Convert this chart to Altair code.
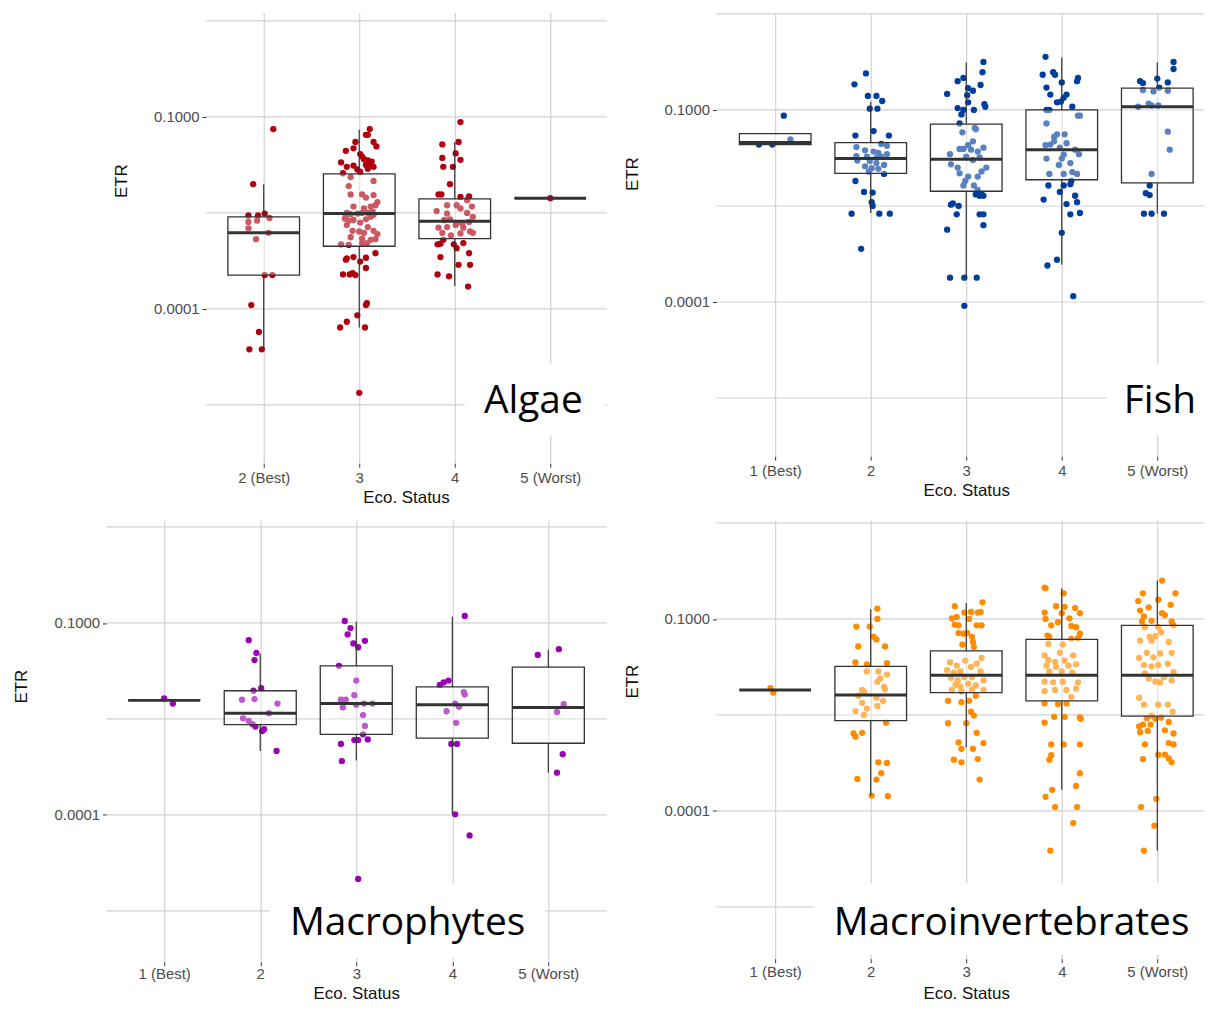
import json
import altair as alt
import pandas as pd

# ---------------- categories ----------------
ALG_CATS = ["2 (Best)", "3", "4", "5 (Worst)"]
FIVE_CATS = ["1 (Best)", "2", "3", "4", "5 (Worst)"]

# ---------------- Algae (log10 ETR, jitter offsets) ----------------
alg_p1_log = [-1.19, -2.05, -2.54, -2.54, -2.51, -2.58, -2.64, -2.62, -2.74, -2.81, -2.91, -3.47, -3.47, -3.94, -4.36, -4.63, -4.63]
alg_p1_jit = [0.10, -0.11, -0.16, -0.06, 0.01, 0.06, -0.16, -0.07, -0.16, 0.05, -0.08, 0.01, 0.09, -0.13, -0.05, -0.15, -0.02]
alg_p2_log = [-1.19, -1.28, -1.28, -1.39, -1.39, -1.46, -1.49, -1.53, -1.58, -1.62, -1.66, -1.68, -1.70, -1.74, -1.75, -1.78, -1.71, -1.78, -1.76, -1.81, -1.88, -1.86, -1.82,
              -1.94, -2.00, -2.08, -2.21, -2.21, -2.22, -2.26, -2.33, -2.38, -2.40, -2.43, -2.40, -2.50, -2.53, -2.52, -2.51, -2.50, -2.50, -2.48, -2.59, -2.62, -2.61, -2.60, -2.56, -2.53, -2.69, -2.65, -2.72, -2.78, -2.79, -2.81, -2.78, -2.83, -2.88, -2.90, -2.92, -2.91, -2.99, -3.00, -2.97, -2.97,
              -3.21, -3.23, -3.19, -3.26, -3.20, -3.13, -3.36, -3.46, -3.46, -3.44, -3.47, -3.91, -3.94, -4.10, -4.20, -4.29, -4.29, -5.31]
alg_p2_jit = [0.11, 0.07, 0.09, -0.04, 0.15, 0.18, -0.06, -0.14, 0.01, 0.03, 0.05, 0.09, 0.13, 0.12, 0.07, 0.15, -0.19, -0.13, -0.06, 0.09, -0.17, 0.01, -0.02,
              -0.09, 0.15, -0.11, 0.03, -0.09, 0.15, 0.07, 0.19, 0.17, 0.12, 0.05, -0.06, -0.13, -0.14, -0.09, -0.02, 0.03, 0.09, 0.14, -0.15, -0.11, -0.06, 0.07, 0.12, 0.15, -0.13, 0.01, 0.09, -0.07, 0.00, 0.05, 0.15, 0.19, -0.09, 0.03, 0.12, 0.17, -0.19, -0.11, 0.03, 0.08,
              -0.13, -0.14, -0.06, 0.01, 0.07, 0.17, 0.07, -0.17, -0.10, -0.07, -0.04, 0.08, 0.07, -0.02, -0.13, -0.20, 0.06, 0.00]
alg_p3_log = [-1.08, -1.43, -1.39, -1.57, -1.64, -1.67, -1.78, -1.78, -2.05, -2.21, -2.21, -2.25, -2.24,
              -2.38, -2.38, -2.30, -2.40, -2.47, -2.51, -2.43, -2.50, -2.56, -2.61, -2.60, -2.66, -2.67, -2.64, -2.73, -2.72, -2.69, -2.73, -2.79, -2.81, -2.81, -2.85, -2.82,
              -2.92, -2.98, -2.99, -2.99, -2.97, -3.05, -3.13, -3.19, -3.31, -3.31, -3.46, -3.49, -3.65]
alg_p3_jit = [0.06, -0.13, 0.04, 0.01, -0.13, 0.06, -0.12, -0.02, -0.05, -0.17, -0.14, 0.06, 0.15,
              -0.08, 0.02, 0.13, 0.18, -0.19, -0.08, 0.06, 0.13, 0.19, -0.11, -0.05, 0.02, 0.08, 0.15, -0.17, -0.08, 0.01, 0.09, 0.16, 0.19, -0.13, -0.04, 0.06,
              -0.12, -0.15, -0.18, -0.01, 0.09, 0.02, 0.15, -0.15, 0.04, 0.16, -0.18, -0.06, 0.14]
alg_p4_log = [-2.27]
alg_p4_jit = [0.00]
alg_q1 = [-3.47, -3.02, -2.90, -2.27]
alg_med = [-2.81, -2.51, -2.63, -2.27]
alg_q3 = [-2.56, -1.89, -2.28, -2.27]
alg_lo = [-4.63, -4.29, -3.64, -2.27]
alg_hi = [-2.05, -1.20, -1.39, -2.27]

# ---------------- Fish ----------------
fish_p1_log = [-1.54, -1.54, -1.46, -1.09]
fish_p1_jit = [-0.17, -0.03, 0.16, 0.09]
fish_p2_log = [-0.43, -0.60, -0.78, -0.78, -0.86, -0.98, -0.98, -1.33, -1.40, -1.40, -1.53, -1.56, -1.58, -1.63, -1.65, -1.67, -1.69, -1.72, -1.73, -1.75,
               -1.73, -1.79, -1.80, -1.83, -1.86, -1.88, -1.91, -1.92, -1.96, -2.00, -2.11, -2.28, -2.29, -2.44, -2.50, -2.62, -2.62, -2.62, -3.17]
fish_p2_jit = [-0.05, -0.17, -0.03, 0.06, 0.12, -0.01, 0.07, 0.03, -0.16, 0.19, 0.11, 0.17, -0.15, -0.06, 0.03, 0.08, 0.17, -0.15, -0.04, 0.06,
               0.11, -0.14, -0.01, 0.06, 0.14, -0.06, 0.01, 0.08, -0.02, 0.14, -0.16, -0.07, 0.02, 0.01, 0.02, -0.20, 0.09, 0.20, -0.10]
fish_p3_log = [-0.25, -0.41, -0.55, -0.50, -0.66, -0.70, -0.61, -0.75, -0.77, -0.88, -0.91, -0.95, -0.97, -1.00, -1.00, -1.07, -1.21,
               -1.28, -1.30, -1.35, -1.49, -1.55, -1.61, -1.61, -1.62, -1.65, -1.59, -1.69, -1.73, -1.74, -1.85, -1.78, -1.90, -1.90, -1.96, -1.99, -2.04, -2.04, -2.11, -2.18, -2.18, -2.25,
               -2.32, -2.34, -2.34, -2.32, -2.46, -2.48, -2.50, -2.63, -2.63, -2.63, -2.80, -2.87, -3.62, -3.62, -3.62, -4.06]
fish_p3_jit = [0.18, 0.17, -0.09, -0.03, 0.02, 0.07, 0.15, -0.20, 0.01, 0.02, 0.19, 0.20, -0.09, -0.03, 0.08, -0.05, -0.07,
               0.09, 0.10, -0.04, 0.07, 0.02, -0.07, -0.03, 0.05, 0.12, 0.18, -0.17, 0.00, 0.14, -0.16, 0.07, -0.09, 0.21, 0.16, -0.07, 0.02, 0.12, -0.01, -0.03, 0.08, 0.12,
               0.10, 0.14, 0.18, 0.16, -0.14, -0.16, -0.08, -0.10, 0.14, 0.18, 0.18, -0.20, -0.17, -0.02, 0.11, -0.02]
fish_p4_log = [-0.17, -0.45, -0.41, -0.45, -0.50, -0.55, -0.57, -0.65, -0.76, -0.76, -0.81, -0.88, -0.87, -0.95, -1.00, -1.00,
               -1.09, -1.09, -1.21, -1.38, -1.42, -1.38, -1.55, -1.54, -1.49, -1.59, -1.52, -1.62, -1.70, -1.69, -1.76, -1.76, -1.83, -1.86, -2.00, -2.00, -1.97, -2.00,
               -2.18, -2.18, -2.16, -2.11, -2.28, -2.34, -2.40, -2.44, -2.47, -2.63, -2.61, -2.92, -3.34, -3.43, -3.91]
fish_p4_jit = [-0.17, -0.20, -0.09, -0.07, 0.17, 0.16, 0.00, -0.16, -0.12, 0.05, 0.02, -0.05, -0.01, 0.11, -0.13, -0.16,
               0.17, 0.19, -0.16, -0.05, -0.08, 0.03, -0.17, -0.12, -0.08, -0.02, 0.05, 0.14, 0.02, 0.18, -0.16, 0.00, 0.09, -0.03, -0.13, 0.02, 0.11, 0.16,
               -0.14, 0.02, 0.09, 0.10, -0.02, 0.14, -0.19, 0.16, 0.05, 0.09, 0.19, 0.00, -0.05, -0.15, 0.12]
fish_p5_log = [-0.25, -0.36, -0.51, -0.55, -0.58, -0.57, -0.69, -0.71, -0.65, -0.70, -0.95, -0.90, -0.93, -0.93, -1.34, -1.62, -2.00, -2.18, -2.30, -2.33, -2.62, -2.62, -2.62]
fish_p5_jit = [0.17, 0.17, 0.00, -0.18, -0.15, 0.11, -0.15, -0.04, 0.02, 0.11, -0.20, -0.09, -0.06, 0.01, 0.11, 0.13, -0.06, -0.08, -0.12, -0.08, -0.14, -0.06, 0.07]
fish_q1 = [-1.54, -1.99, -2.27, -2.09, -2.14]
fish_med = [-1.51, -1.76, -1.77, -1.62, -0.95]
fish_q3 = [-1.37, -1.51, -1.22, -1.00, -0.66]
fish_lo = [-1.54, -2.61, -3.62, -3.42, -2.62]
fish_hi = [-1.37, -0.87, -0.26, -0.18, -0.26]

# ---------------- Macrophytes ----------------
mac_p1_log = [-2.18, -2.26]
mac_p1_jit = [0.00, 0.09]
mac_p2_log = [-1.27, -1.47, -1.58, -2.02, -2.06, -2.20, -2.19, -2.26, -2.41, -2.49, -2.53, -2.58, -2.62, -2.66, -2.69, -3.00]
mac_p2_jit = [-0.12, -0.04, -0.06, 0.01, -0.07, -0.19, -0.06, 0.18, 0.09, -0.18, -0.12, -0.08, -0.05, 0.04, 0.02, 0.17]
mac_p3_log = [-0.97, -1.08, -1.18, -1.32, -1.38, -1.28, -1.67, -1.90, -2.13, -2.20, -2.20, -2.32, -2.28, -2.26, -2.26, -2.44, -2.61, -2.74, -2.83, -2.83, -2.82, -2.89, -3.16, -5.00]
mac_p3_jit = [-0.12, -0.06, -0.09, -0.03, 0.02, 0.09, -0.18, 0.00, -0.02, -0.16, -0.11, -0.14, 0.00, 0.08, 0.17, 0.07, 0.09, 0.07, -0.02, 0.02, 0.12, -0.16, -0.15, 0.02]
mac_p4_log = [-0.89, -1.97, -1.93, -1.90, -2.08, -2.12, -2.26, -2.31, -2.38, -2.56, -2.89, -2.89, -3.99, -4.32]
mac_p4_jit = [0.13, -0.13, -0.09, -0.04, 0.12, 0.13, 0.03, 0.07, -0.06, 0.04, -0.01, 0.05, 0.03, 0.18]
mac_p5_log = [-1.50, -1.41, -2.27, -2.39, -3.05, -3.34]
mac_p5_jit = [-0.11, 0.11, 0.16, 0.09, 0.15, 0.09]
mac_q1 = [-2.21, -2.59, -2.74, -2.80, -2.88]
mac_med = [-2.21, -2.41, -2.26, -2.28, -2.32]
mac_q3 = [-2.21, -2.06, -1.67, -2.00, -1.69]
mac_lo = [-2.21, -3.00, -3.15, -3.98, -3.34]
mac_hi = [-2.21, -1.48, -0.98, -0.90, -1.42]

# ---------------- Macroinvertebrates ----------------
inv_p1_log = [-2.08, -2.15]
inv_p1_jit = [-0.05, -0.02]
inv_p2_log = [-0.84, -1.00, -1.12, -1.12, -1.28, -1.32, -1.43, -1.43, -1.68, -1.71, -1.69,
              -1.82, -1.82, -1.87, -1.93, -1.98, -2.06, -2.10, -2.11, -2.14, -2.20, -2.23, -2.28, -2.31, -2.36, -2.40, -2.44, -2.50,
              -2.62, -2.79, -2.84, -2.78, -3.24, -3.25, -3.41, -3.50, -3.51, -3.76, -3.77]
inv_p2_jit = [0.07, 0.07, -0.15, -0.01, 0.03, 0.06, -0.13, 0.15, -0.16, -0.04, 0.17,
              -0.04, 0.08, 0.17, 0.10, 0.07, 0.14, 0.15, -0.09, -0.07, -0.13, 0.06, 0.13, -0.09, 0.07, -0.04, -0.16, -0.07,
              0.16, -0.18, -0.16, -0.09, 0.08, 0.17, 0.11, -0.14, 0.06, 0.01, 0.18]
inv_p3_log = [-0.74, -0.80, -0.90, -0.89, -0.90, -0.89, -0.99, -0.97, -1.00, -1.09, -1.10, -1.10, -1.10, -1.22, -1.23, -1.22, -1.28, -1.36, -1.40, -1.44,
              -1.68, -1.73, -1.65, -1.70, -1.61, -1.80, -1.84, -1.82, -1.75, -1.82, -1.92, -1.96, -1.91, -1.91, -1.96, -2.03, -2.06, -2.01, -2.04, -2.11, -2.13, -2.10, -2.11,
              -2.28, -2.30, -2.28, -2.20, -2.45, -2.51, -2.63, -2.63, -2.78, -2.93, -2.94, -3.03, -3.03, -3.20, -3.24, -3.19, -3.51]
inv_p3_jit = [0.17, -0.12, -0.02, 0.05, 0.12, 0.15, -0.15, -0.10, 0.03, -0.12, -0.08, 0.11, 0.16, -0.08, -0.03, 0.01, 0.06, 0.07, -0.04, 0.08,
              -0.17, -0.10, -0.01, 0.11, 0.16, -0.20, -0.13, -0.06, 0.05, 0.15, -0.16, -0.09, -0.02, 0.06, 0.18, -0.11, -0.06, 0.02, 0.10, -0.15, -0.05, 0.06, 0.18,
              -0.19, -0.05, 0.03, 0.10, 0.05, 0.08, -0.19, 0.00, 0.11, -0.08, 0.18, -0.05, 0.07, -0.13, -0.05, 0.12, 0.14]
inv_p4_log = [-0.51, -0.52, -0.60, -0.80, -0.81, -0.83, -0.91, -0.90, -0.91, -1.00, -1.05, -0.99, -1.10, -1.11, -1.13, -1.23, -1.26, -1.28, -1.31, -1.30,
              -1.39, -1.40, -1.57, -1.53, -1.57, -1.64, -1.67, -1.65, -1.71, -1.73, -1.75, -1.73, -1.82, -1.82, -1.84, -1.98, -1.99, -1.98, -1.99, -2.11, -2.11, -2.09, -2.13, -2.22,
              -2.32, -2.33, -2.32, -2.53, -2.53, -2.54, -2.56, -2.62, -2.96, -2.96, -2.96, -3.13, -3.20, -3.41, -3.61, -3.67, -3.78, -3.94, -3.94, -4.19, -4.62]
inv_p4_jit = [-0.18, -0.17, 0.02, -0.06, 0.03, 0.14, 0.19, -0.18, 0.00, -0.17, -0.04, 0.08, -0.11, 0.10, 0.15, 0.19, -0.15, -0.13, 0.10, 0.17,
              -0.14, 0.01, -0.18, -0.02, 0.12, -0.14, -0.07, 0.03, 0.15, -0.16, -0.06, 0.07, -0.13, 0.00, 0.11, -0.18, -0.09, 0.01, 0.17, -0.07, 0.05, 0.15, -0.18, 0.10,
              -0.18, -0.04, 0.05, -0.08, 0.03, 0.19, 0.20, -0.18, -0.11, 0.02, 0.19, -0.11, -0.13, 0.19, 0.15, -0.10, -0.17, -0.07, 0.16, 0.12, -0.12]
inv_p5_log = [-0.40, -0.60, -0.60, -0.72, -0.70, -0.82, -0.78, -0.87, -0.96, -0.91, -0.94, -1.03, -1.04, -1.04, -1.10,
              -1.13, -1.13, -1.28, -1.27, -1.21, -1.34, -1.34, -1.36, -1.53, -1.54, -1.53, -1.61, -1.60, -1.72, -1.74, -1.72, -1.70, -1.83, -1.85, -1.91, -1.96, -1.93, -1.98, -1.99, -2.23, -2.34, -2.34, -2.34, -2.45, -2.51,
              -2.55, -2.56, -2.54, -2.65, -2.65, -2.61, -2.68, -2.77, -2.75, -2.74, -2.79, -2.96, -2.94, -2.96, -3.12, -3.12, -3.18, -3.24, -3.19, -3.81, -3.94, -4.23, -4.62]
inv_p5_jit = [0.05, -0.15, 0.19, -0.20, 0.01, -0.09, 0.14, -0.18, -0.14, 0.05, 0.08, -0.06, -0.16, 0.15, 0.17,
              -0.13, 0.01, -0.08, -0.02, 0.04, -0.18, -0.06, 0.12, -0.11, 0.03, 0.15, -0.19, -0.04, -0.14, -0.06, 0.01, 0.11, 0.17, -0.13, 0.07, 0.15, -0.09, -0.02, 0.03, -0.19, -0.14, 0.01, 0.11, 0.16, -0.06,
              -0.11, -0.02, 0.04, -0.15, -0.07, 0.12, -0.19, -0.18, -0.10, 0.08, 0.17, -0.13, 0.12, 0.17, 0.01, 0.08, 0.12, 0.15, -0.15, -0.01, -0.17, -0.03, -0.14]
inv_q1 = [-2.11, -2.59, -2.15, -2.28, -2.52]
inv_med = [-2.11, -2.19, -1.88, -1.88, -1.88]
inv_q3 = [-2.11, -1.74, -1.50, -1.32, -1.10]
inv_lo = [-2.11, -3.76, -3.01, -3.67, -4.62]
inv_hi = [-2.11, -0.85, -0.75, -0.52, -0.40]

# gridline breaks (log10) and labelled ticks
GRID_LOG = [0.5, -1.0, -2.5, -4.0, -5.5]
Y_TICKS = [0.1, 0.0001]

# ---------------- styling ----------------
GRID = "#D2D2D2"
INK = "#333333"
LABEL_FONT = "Liberation Sans"
BIG_FONT = "Open Sans"


def panel(cats, groups, box, color, label, g):
    n = len(cats)
    xs = alt.Scale(domain=g["xdom"], nice=False, zero=False)
    ys = alt.Scale(type="log", domain=[10 ** g["ydom"][0], 10 ** g["ydom"][1]], nice=False)

    pts = pd.DataFrame([
        {"x": i + j, "etr": 10 ** v}
        for i, (jit, vals) in enumerate(groups, start=1)
        for j, v in zip(jit, vals, strict=True)
    ])
    q1, med, q3, lo, hi = box
    pos = list(range(1, n + 1))
    bx = pd.DataFrame({
        "pos": pos,
        "x0": [p - 0.375 for p in pos],
        "x1": [p + 0.375 for p in pos],
        "q1": [10 ** v for v in q1],
        "med": [10 ** v for v in med],
        "q3": [10 ** v for v in q3],
        "lo": [10 ** v for v in lo],
        "hi": [10 ** v for v in hi],
    })
    grid = pd.DataFrame({
        "etr": [10 ** v for v in GRID_LOG],
        "x0": [g["gx0"]] * len(GRID_LOG),
        "x1": [g["xdom"][1]] * len(GRID_LOG),
    })
    note = pd.DataFrame({
        "label": [label],
        "tx": [g["text"][0]], "ty": [10 ** g["text"][1]],
        "rx0": [g["rect"][0]], "rx1": [g["rect"][1]],
        "ry0": [10 ** g["rect"][2]], "ry1": [10 ** g["rect"][3]],
    })

    xaxis = alt.Axis(
        values=pos, labelExpr=json.dumps(cats) + "[round(datum.value) - 1]",
        grid=True, gridColor=GRID, gridWidth=1.2, domain=False,
        ticks=True, tickSize=4, tickColor=INK, tickWidth=1,
        labelFont=LABEL_FONT, labelFontSize=15, labelColor="#4D4D4D", labelPadding=g["lp"],
        labelAngle=0, labelFlush=False, labelOverlap=False,
        title="Eco. Status", titleFont=LABEL_FONT, titleFontSize=17, titleFontWeight="normal",
        titleColor="#111111", titleX=g["xt"][0], titleY=g["xt"][1], titleAlign="center",
        titleBaseline="middle", titleAngle=0,
    )
    yaxis = alt.Axis(
        values=Y_TICKS, format=".4f", grid=False, domain=False,
        ticks=True, tickSize=4, tickColor=INK, tickWidth=1,
        labelFont=LABEL_FONT, labelFontSize=15, labelColor="#4D4D4D", labelPadding=3,
        offset=g["yoff"],
        title="ETR", titleFont=LABEL_FONT, titleFontSize=17, titleFontWeight="normal",
        titleColor="#111111", titleX=g["yt"][0], titleY=g["yt"][1], titleAngle=270,
        titleAlign="center", titleBaseline="middle",
    )

    def X(field):
        return alt.X(field, type="quantitative", scale=xs, axis=xaxis)

    def Y(field):
        return alt.Y(field, type="quantitative", scale=ys, axis=yaxis)

    grid_layer = alt.Chart(grid).mark_rule(color=GRID, strokeWidth=1.2).encode(
        x=X("x0"), x2="x1", y=Y("etr"))
    pts_layer = alt.Chart(pts).mark_circle(size=40, opacity=1, color=color).encode(
        x=X("x"), y=Y("etr"))
    wlo = alt.Chart(bx).mark_rule(color=INK, strokeWidth=1.2).encode(
        x=X("pos"), y=Y("lo"), y2="q1")
    whi = alt.Chart(bx).mark_rule(color=INK, strokeWidth=1.2).encode(
        x=X("pos"), y=Y("q3"), y2="hi")
    boxes = alt.Chart(bx).mark_rect(fill="white", fillOpacity=0.35, stroke=INK, strokeWidth=1.3).encode(
        x=X("x0"), x2="x1", y=Y("q1"), y2="q3")
    meds = alt.Chart(bx).mark_rule(color=INK, strokeWidth=3).encode(
        x=X("x0"), x2="x1", y=Y("med"))
    cover = alt.Chart(note).mark_rect(color="white").encode(
        x=X("rx0"), x2="rx1", y=Y("ry0"), y2="ry1")
    txt = alt.Chart(note).mark_text(font=BIG_FONT, fontSize=39, align="center",
                                    baseline="alphabetic", color="black").encode(
        x=X("tx"), y=Y("ty"), text="label:N")

    return alt.layer(grid_layer, pts_layer, wlo, whi, boxes, meds, cover, txt).properties(
        width=g["w"], height=g["h"])


# panel geometry (plot area size, scale domains, title / annotation placement)
ALG_GEO = dict(w=503, h=453, xdom=[-0.646, 4.594], ydom=[-6.410, 0.632], gx0=0.4, yoff=-100, lp=3,
               yt=(-85, 169), xt=(301, 34), rect=(3.104, 4.573, -4.855, -5.974), text=(3.823, -5.632))
FISH_GEO = dict(w=490, h=446, xdom=[0.385, 5.489], ydom=[-6.410, 0.523], gx0=0.385, yoff=0, lp=3,
                yt=(-84, 162), xt=(251, 34), rect=(4.468, 5.489, -4.964, -6.083), text=(5.027, -5.741))
MAC_GEO = dict(w=503, h=444, xdom=[0.399, 5.611], ydom=[-6.293, 0.609], gx0=0.399, yoff=0, lp=1,
               yt=(-85, 167), xt=(251, 31.5), rect=(2.098, 4.969, -5.065, -6.231), text=(3.534, -5.869))
INV_GEO = dict(w=490, h=441, xdom=[0.385, 5.489], ydom=[-6.309, 0.547], gx0=0.385, yoff=0, lp=2,
               yt=(-84, 162), xt=(251, 34.5), rect=(1.406, 5.489, -5.127, -6.246), text=(3.474, -5.931))

algae = panel(ALG_CATS,
              [(alg_p1_jit, alg_p1_log), (alg_p2_jit, alg_p2_log), (alg_p3_jit, alg_p3_log), (alg_p4_jit, alg_p4_log)],
              (alg_q1, alg_med, alg_q3, alg_lo, alg_hi), "#B0000F", "Algae", ALG_GEO)
fish = panel(FIVE_CATS,
             [(fish_p1_jit, fish_p1_log), (fish_p2_jit, fish_p2_log), (fish_p3_jit, fish_p3_log),
              (fish_p4_jit, fish_p4_log), (fish_p5_jit, fish_p5_log)],
             (fish_q1, fish_med, fish_q3, fish_lo, fish_hi), "#003E9E", "Fish", FISH_GEO)
macro = panel(FIVE_CATS,
              [(mac_p1_jit, mac_p1_log), (mac_p2_jit, mac_p2_log), (mac_p3_jit, mac_p3_log),
               (mac_p4_jit, mac_p4_log), (mac_p5_jit, mac_p5_log)],
              (mac_q1, mac_med, mac_q3, mac_lo, mac_hi), "#9A00B4", "Macrophytes", MAC_GEO)
inv = panel(FIVE_CATS,
            [(inv_p1_jit, inv_p1_log), (inv_p2_jit, inv_p2_log), (inv_p3_jit, inv_p3_log),
             (inv_p4_jit, inv_p4_log), (inv_p5_jit, inv_p5_log)],
            (inv_q1, inv_med, inv_q3, inv_lo, inv_hi), "#FF8C00", "Macroinvertebrates", INV_GEO)

chart = alt.concat(
    algae, fish, macro, inv, columns=2,
    spacing={"row": 57, "column": 110}, bounds="flush", align="all",
).properties(
    padding={"left": 5, "top": 2, "right": 0, "bottom": 0},
    background="white",
).configure_view(stroke=None)

chart.save("out.html", embed_options={"renderer": "svg", "actions": False})
